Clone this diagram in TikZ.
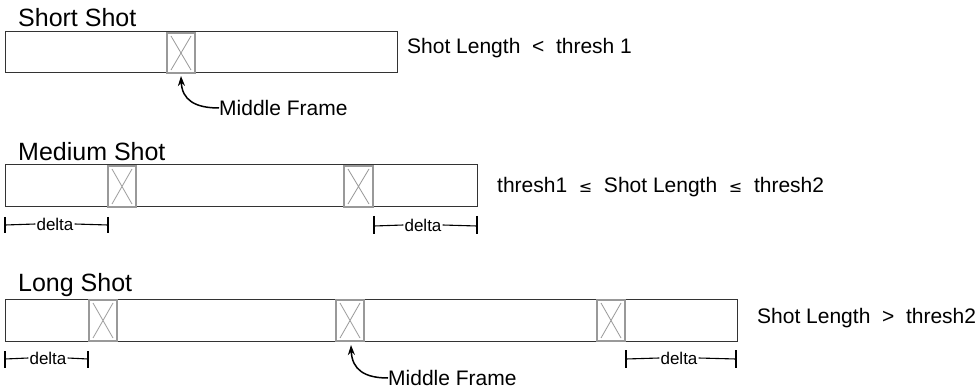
\documentclass[tikz,border=0pt]{standalone}
\usepackage{fontspec}
\setmainfont{Liberation Sans}
\usetikzlibrary{arrows.meta}
\newcommand{\condsize}{\fontsize{21}{24}\selectfont}
\newcommand{\lesym}{{\fontspec{DejaVu Sans}\fontsize{16}{18}\selectfont ≤}}
\begin{document}
\begin{tikzpicture}[x=1pt,y=-1pt,
  bar/.style={draw=black!80,line width=1pt},
  frame/.style={draw=black!40,line width=1.8pt},
  cross/.style={draw=black!40,line width=0.8pt},
  title/.style={font=\fontsize{25}{28}\selectfont,anchor=west,inner sep=0pt},
  cond/.style={font=\condsize,anchor=west,inner sep=0pt},
  dlabel/.style={font=\fontsize{17}{19}\selectfont,inner sep=1pt,fill=white},
  dline/.style={draw=black,line width=1.1pt},
  tick/.style={draw=black,line width=1.4pt},
  mlabel/.style={font=\condsize,anchor=west,inner sep=0pt},
  callout/.style={draw=black,line width=1.5pt,-{Stealth[length=10pt,width=7pt]}}
]
\useasboundingbox (0,0) rectangle (975,390);
\fill[white] (0,0) rectangle (975,390);

% ---------- Short shot ----------
\node[title] (t1) at (18,18) {Short Shot};
\draw[bar] (5,32) rectangle (397,73);
\draw[frame] (167,33) rectangle (195,73);
\draw[cross] (171,36) -- (191,70) (191,36) -- (171,70);
\coordinate (f1) at (181,76);
\node[cond] (c1) at (407,48) {Shot Length \ \textless\ \ thresh 1};
\node[mlabel] (m1) at (219,108) {Middle Frame};
\draw[callout] (m1.west) .. controls (195,108) and (182,100) .. (f1);

% ---------- Medium shot ----------
\node[title] (t2) at (18,152) {Medium Shot};
\draw[bar] (5,165) rectangle (477,207);
\draw[frame] (108,166) rectangle (136,207);
\draw[cross] (112,169) -- (132,204) (132,169) -- (112,204);
\draw[frame] (344,166) rectangle (373,207);
\draw[cross] (348,169) -- (369,204) (369,169) -- (348,204);
\node[cond] (c2) at (497,187) {thresh1 \ \lesym\ \ Shot Length \ \lesym\ \ thresh2};

\coordinate (d1a) at (5,225);
\coordinate (d1b) at (108,225);
\node[dlabel] (d1) at (55,224) {delta};
\draw[dline] (d1a) -- (d1.west) (d1.east) -- (d1b);
\draw[tick] (5,217) -- (5,233) (108,217) -- (108,233);

\coordinate (d2a) at (374,226);
\coordinate (d2b) at (477,226);
\node[dlabel] (d2) at (423,225) {delta};
\draw[dline] (d2a) -- (d2.west) (d2.east) -- (d2b);
\draw[tick] (374,216) -- (374,234) (477,216) -- (477,234);

% ---------- Long shot ----------
\node[title] (t3) at (18,285) {Long Shot};
\draw[bar] (5,299) rectangle (737,341);
\draw[frame] (89,300) rectangle (117,341);
\draw[cross] (93,303) -- (113,338) (113,303) -- (93,338);
\draw[frame] (336,300) rectangle (364,341);
\draw[cross] (340,303) -- (360,338) (360,303) -- (340,338);
\draw[frame] (597,300) rectangle (625,341);
\draw[cross] (601,303) -- (621,338) (621,303) -- (601,338);
\node[cond] (c3) at (757,318) {Shot Length \ \textgreater\ \ thresh2};

\coordinate (d3a) at (5,359);
\coordinate (d3b) at (88,359);
\node[dlabel] (d3) at (48,358) {delta};
\draw[dline] (d3a) -- (d3.west) (d3.east) -- (d3b);
\draw[tick] (5,351) -- (5,368) (88,351) -- (88,368);

\coordinate (d4a) at (626,359);
\coordinate (d4b) at (736,359);
\node[dlabel] (d4) at (679,358) {delta};
\draw[dline] (d4a) -- (d4.west) (d4.east) -- (d4b);
\draw[tick] (626,350) -- (626,368) (736,350) -- (736,368);

\coordinate (f3) at (351,345);
\node[mlabel] (m3) at (388,378) {Middle Frame};
\draw[callout] (m3.west) .. controls (365,378) and (352,370) .. (f3);
\end{tikzpicture}
\end{document}
